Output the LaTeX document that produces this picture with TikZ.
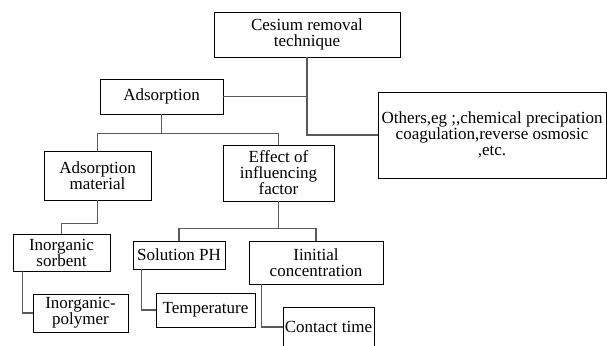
\documentclass[tikz,border=0pt]{standalone}
\usepackage{fontspec}
\setmainfont{LiberationSerif}[Extension=.ttf, UprightFont=*-Regular, BoldFont=*-Bold]
\begin{document}
\begin{tikzpicture}[x=1pt, y=-1pt,
    box/.style={draw, line width=.8pt, inner sep=0pt, align=center, font=\rmfamily\fontsize{17}{16}\selectfont},
    link/.style={draw=black!65, line width=1.1pt}]

    \useasboundingbox (0,0) rectangle (607,345);
    \clip (0,0) rectangle (607,345);

    % top level
    \node[box, minimum width=186pt, minimum height=45pt] (cesium) at (307,34.5) {Cesium removal\\technique};
    \node[box, minimum width=123pt, minimum height=35pt] (ads) at (161.5,96.5) {Adsorption};
    \node[box, minimum width=228pt, minimum height=86pt] (others) at (492,135) {Others,eg ;,chemical precipation\\coagulation,reverse osmosic\\,etc.};

    % adsorption branch
    \node[box, minimum width=107pt, minimum height=49pt] (mat) at (97.5,175.5) {Adsorption\\material};
    \node[box, minimum width=111pt, minimum height=56pt] (eff) at (278.5,173) {Effect of\\influencing\\factor};
    \node[box, minimum width=97pt, minimum height=37pt] (sorb) at (61.5,252.5) {Inorganic\\sorbent};
    \node[box, minimum width=95pt, minimum height=38pt] (poly) at (80.5,313) {Inorganic-\\polymer};

    % factors
    \node[box, minimum width=92pt, minimum height=28pt] (ph) at (179,255) {Solution PH};
    \node[box, minimum width=134pt, minimum height=43pt] (init) at (316,262.5) {Iinitial\\concentration};
    \node[box, minimum width=99pt, minimum height=34pt] (temp) at (205.5,310) {Temperature};
    \node[box, minimum width=91pt, minimum height=40pt] (contact) at (328.5,327) {Contact time};

    % connectors
    \draw[link] (cesium.south) |- (ads.east);
    \draw[link] (cesium.south) |- (others.west);
    \draw[link] (ads.south) -- ++(0,20);
    \draw[link] (mat.north) -- ++(0,-17) -| (eff.north);
    \draw[link] (mat.south) -- ++(0,23) -| (sorb.north);
    \draw[link] ([xshift=10pt]sorb.south west) |- (poly.west);
    \draw[link] (eff.south) -- ++(0,28);
    \draw[link] (ph.north) -- ++(0,-12) -| (init.north);
    \draw[link] ([xshift=9pt]ph.south west) |- (temp.west);
    \draw[link] ([xshift=13pt]init.south west) |- (contact.west);
\end{tikzpicture}
\end{document}
